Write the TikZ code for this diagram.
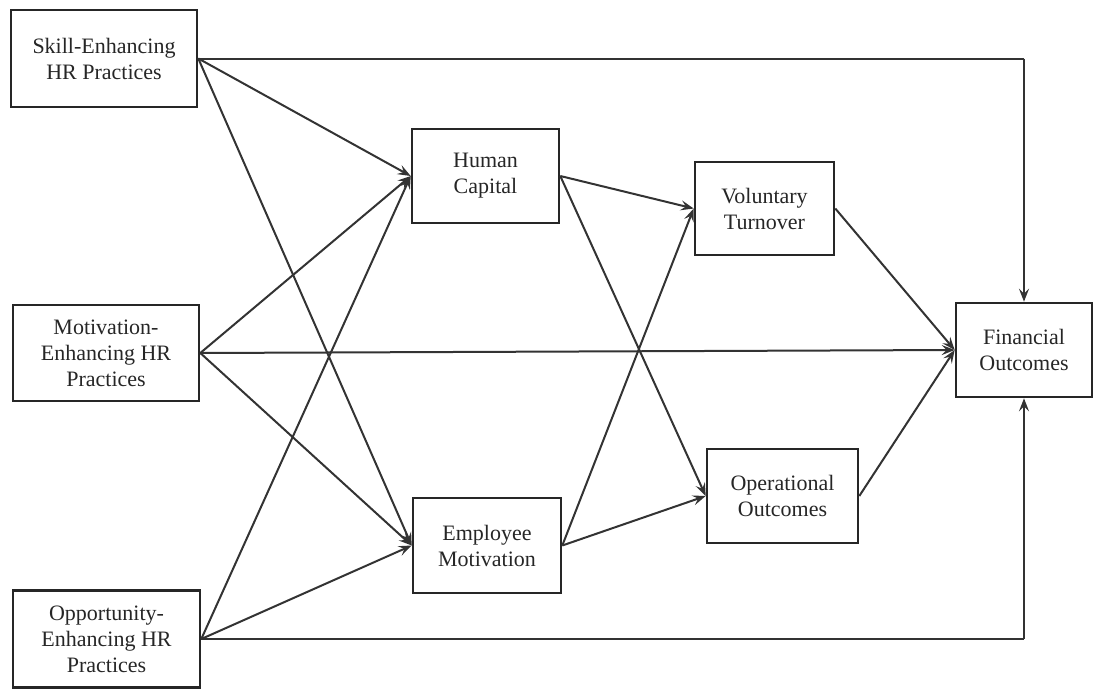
\documentclass[tikz,border=0pt]{standalone}
\usepackage{fontspec}
\setmainfont{Liberation Serif}
\usetikzlibrary{arrows.meta,calc}
\begin{document}
\begin{tikzpicture}[x=1pt,y=-1pt,
  box/.style={draw=black!85,line width=2.6pt,align=center,inner sep=0pt,
    font=\fontsize{22}{26}\selectfont,text=black!85},
  conn/.style={draw=black!80,line width=2pt,-{Stealth[length=13pt,width=10pt,inset=5pt]}},
  plain/.style={draw=black!80,line width=2pt}]
\useasboundingbox (0,0) rectangle (1096,691);
\node[box,minimum width=186pt,minimum height=97pt] (skill) at (104,58.5) {Skill-Enhancing\\HR Practices};
\node[box,minimum width=186pt,minimum height=96pt] (motiv) at (106,353) {Motivation-\\Enhancing HR\\Practices};
\node[box,minimum width=187pt,minimum height=97pt] (opp) at (106.5,639) {Opportunity-\\Enhancing HR\\Practices};
\node[box,minimum width=147pt,minimum height=94pt] (hc) at (485.5,176) {Human\\Capital};
\node[box,minimum width=148pt,minimum height=95pt] (em) at (487,545.5) {Employee\\Motivation};
\node[box,minimum width=139pt,minimum height=93pt] (vt) at (764.5,208.5) {Voluntary\\Turnover};
\node[box,minimum width=151pt,minimum height=94pt] (oo) at (782.5,496) {Operational\\Outcomes};
\node[box,minimum width=136pt,minimum height=94pt] (fo) at (1024,350) {Financial\\Outcomes};
\coordinate (tr) at (fo.north |- skill.east);
\coordinate (br) at (fo.south |- opp.east);
% from skill
\draw[conn] (skill.east) -- (hc.west);
\draw[conn] (skill.east) -- (em.west);
\draw[plain] (skill.east) -- (tr);
\draw[conn] (tr) -- (fo.north);
% from motivation
\draw[conn] (motiv.east) -- (hc.west);
\draw[conn] (motiv.east) -- (em.west);
\draw[conn] (motiv.east) -- (fo.west);
% from opportunity
\draw[conn] (opp.east) -- (hc.west);
\draw[conn] (opp.east) -- (em.west);
\draw[plain] (opp.east) -- (br);
\draw[conn] (br) -- (fo.south);
% middle
\draw[conn] (hc.east) -- (vt.west);
\draw[conn] (hc.east) -- (oo.west);
\draw[conn] (em.east) -- (vt.west);
\draw[conn] (em.east) -- (oo.west);
\draw[conn] (vt.east) -- (fo.west);
\draw[conn] (oo.east) -- (fo.west);
\end{tikzpicture}
\end{document}
